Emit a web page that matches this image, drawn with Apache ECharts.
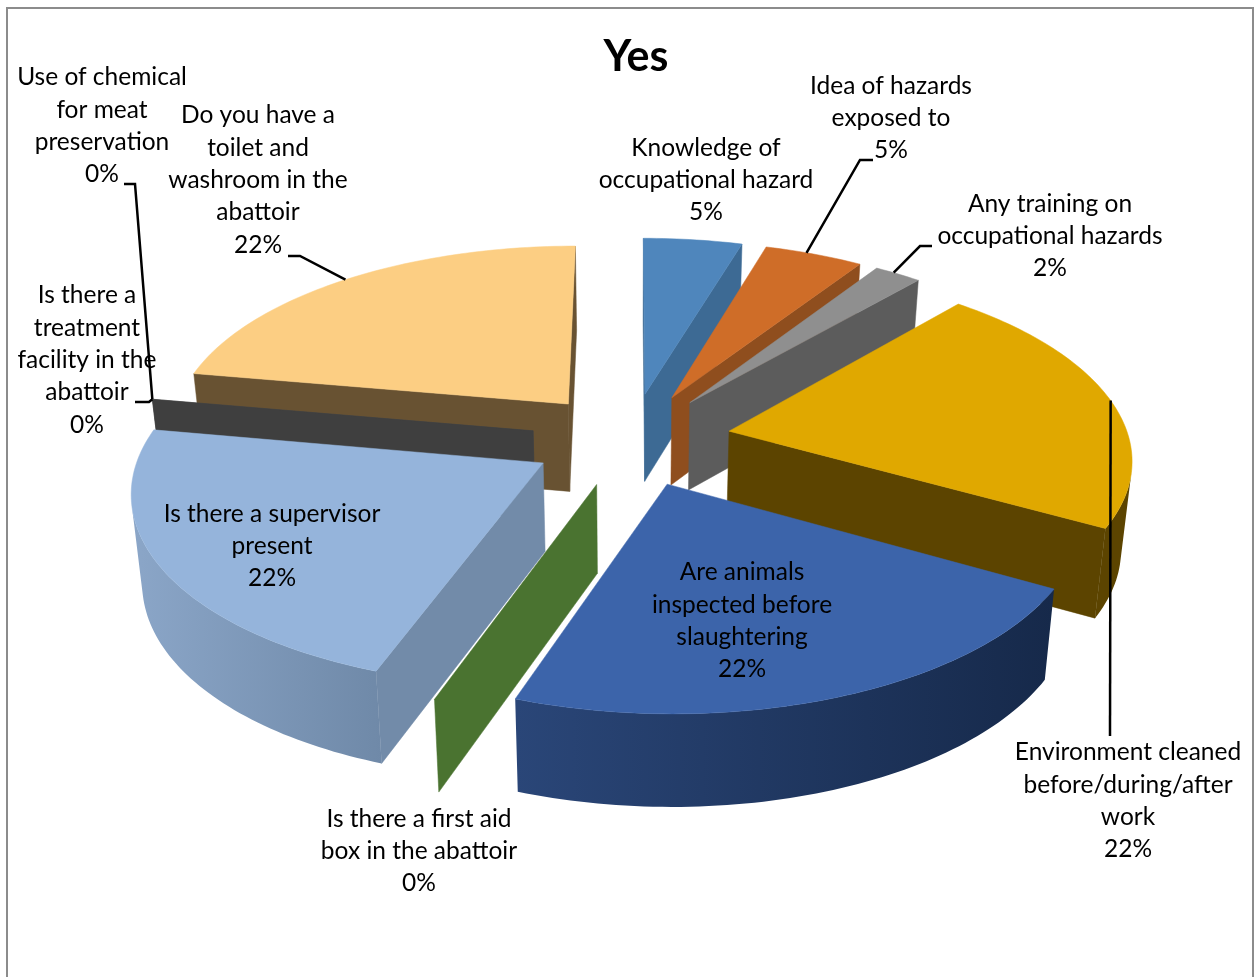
<!doctype html>
<html>
<head>
<meta charset="utf-8">
<title>Yes</title>
<script src="https://cdn.jsdelivr.net/npm/echarts@6/dist/echarts.min.js"></script>
<style>
html, body { margin: 0; padding: 0; background: #fff; }
#chart { width: 1255px; height: 977px; }
</style>
</head>
<body>
<div id="chart"></div>
<script>
// chart data
var chartTitle = 'Yes';
var categories = [
	'Knowledge of\noccupational hazard',
	'Idea of hazards\nexposed to',
	'Any training on\noccupational hazards',
	'Environment cleaned\nbefore/during/after\nwork',
	'Are animals\ninspected before\nslaughtering',
	'Is there a first aid\nbox in the abattoir',
	'Is there a supervisor\npresent',
	'Is there a\ntreatment\nfacility in the\nabattoir',
	'Use of chemical\nfor meat\npreservation',
	'Do you have a\ntoilet and\nwashroom in the\nabattoir'
];
var values = [4.6, 4.6, 2.2, 21.8, 22.2, 0, 22.4, 0, 0, 22.2];

// slice colours: top face, cut face, outer side left/right
var topColors = ['#4f86bc', '#cf6d28', '#8f8f8f', '#e0a800', '#3c64aa', '#4a7330', '#95b4db', '#4d4d4d', '#3f3f3f', '#fcce83'];
var cutColors = ['#3d6a94', '#8f4e1e', '#5c5c5c', '#5c4400', '#16294a', '#4a7330', '#728ba9', '#4d4d4d', '#3f3f3f', '#685232'];
var sideLeft = ['#3d6a94', '#8f4e1e', '#5c5c5c', '#5c4400', '#2a4678', '#4a7330', '#8ba6c8', '#4d4d4d', '#3f3f3f', '#685232'];
var sideRight = ['#3d6a94', '#8f4e1e', '#5c5c5c', '#5c4400', '#16294a', '#4a7330', '#6f89a8', '#4d4d4d', '#3f3f3f', '#685232'];

// projection of the tilted pie
var CX = 631, CY = 439, RX = 400, RY = 187, PERSP = 0.13, DEPTH = 88, SHRINK = 0.022, EXPLODE = 0.25;

function project(x, y, z) {
	var s = 1 / (1 - PERSP * y);
	var px = CX + RX * x * s;
	var py = CY + RY * y * s;
	if (z) {
		px = CX + (px - CX) * (1 - SHRINK * z);
		py = py + DEPTH * (1 + 0.3 * (s - 1)) * z;
	}
	return [px, py];
}

var total = values.reduce(function (a, b) { return a + b; }, 0);
var startAngles = [];
var sweeps = [];
var sum = 0;
for (var k = 0; k < values.length; k++) {
	startAngles.push(sum / total * Math.PI * 2);
	sweeps.push(values[k] / total * Math.PI * 2);
	sum += values[k];
}

function sliceApex(i) {
	var mid = startAngles[i] + sweeps[i] / 2;
	return [EXPLODE * Math.sin(mid), -EXPLODE * Math.cos(mid)];
}
function rimPoint(i, t) {
	var apex = sliceApex(i);
	var a = startAngles[i] + sweeps[i] * t;
	return [apex[0] + Math.sin(a), apex[1] - Math.cos(a)];
}
function area(pts) {
	var r = 0;
	for (var n = 0; n < pts.length; n++) {
		var p = pts[n], q = pts[(n + 1) % pts.length];
		r += p[0] * q[1] - q[0] * p[1];
	}
	return r;
}
function face(pts, fill) {
	return { type: 'polygon', silent: true, shape: { points: pts }, style: { fill: fill, stroke: fill, lineWidth: 0.5 } };
}

function renderSlice(params, api) {
	var i = api.value(0);
	var apex = sliceApex(i);
	var children = [];
	var steps = Math.max(2, Math.ceil(sweeps[i] / 0.02));
	var top = [project(apex[0], apex[1], 0)];
	var rim = [];
	for (var n = 0; n <= steps; n++) {
		var r = rimPoint(i, n / steps);
		rim.push(r);
		top.push(project(r[0], r[1], 0));
	}

	// the two radial cuts, only when they face the viewer
	var cut1 = [project(apex[0], apex[1], 0), project(rim[0][0], rim[0][1], 0), project(rim[0][0], rim[0][1], 1), project(apex[0], apex[1], 1)];
	var cut2 = [project(apex[0], apex[1], 1), project(rim[steps][0], rim[steps][1], 1), project(rim[steps][0], rim[steps][1], 0), project(apex[0], apex[1], 0)];
	if (area(cut1) < 0) children.push(face(cut1, cutColors[i]));
	if (area(cut2) < 0) children.push(face(cut2, cutColors[i]));

	// outer wall, visible part of the arc only
	var upper = [], lower = [];
	for (var m = 0; m < steps; m++) {
		var a = rim[m], b = rim[m + 1];
		var quad = [project(a[0], a[1], 0), project(b[0], b[1], 0), project(b[0], b[1], 1), project(a[0], a[1], 1)];
		if (area(quad) < 0) {
			if (!upper.length) { upper.push(quad[0]); lower.push(quad[3]); }
			upper.push(quad[1]);
			lower.push(quad[2]);
		}
	}
	if (upper.length) {
		children.push({
			type: 'polygon',
			silent: true,
			shape: { points: upper.concat(lower.reverse()) },
			style: {
				fill: new echarts.graphic.LinearGradient(0, 0, 1, 0, [
					{ offset: 0, color: sideLeft[i] },
					{ offset: 1, color: sideRight[i] }
				])
			}
		});
	}

	if (sweeps[i] > 0) children.push(face(top, topColors[i]));
	return { type: 'group', children: children };
}

// label placement, leader is [elbow points..., position along the slice's rim]
var labelLayout = [
	{ x: 706, y: 180 },
	{ x: 891, y: 118, leader: [[873, 160], [860, 160]], rim: 0.42 },
	{ x: 1050, y: 236, leader: [[932, 246], [920, 246]], rim: 0.4 },
	{ x: 1128, y: 801, leader: [[1110, 736]], rim: 0.5 },
	{ x: 742, y: 621 },
	{ x: 419, y: 851 },
	{ x: 272, y: 546 },
	{ x: 87, y: 360, leader: [[135, 402], [149, 402]], rim: 0 },
	{ x: 102, y: 126, leader: [[124, 184], [135, 184]], rim: 0 },
	{ x: 258, y: 180, leader: [[288, 256], [300, 256]], rim: 0.5 }
];

function renderLabel(params, api) {
	var i = api.value(0);
	var l = labelLayout[i];
	var children = [];
	if (l.leader) {
		var r = rimPoint(i, l.rim);
		children.push({
			type: 'polyline',
			silent: true,
			shape: { points: l.leader.concat([project(r[0], r[1], 0)]) },
			style: { fill: 'none', stroke: '#000', lineWidth: 2.5 }
		});
	}
	children.push({
		type: 'text',
		silent: true,
		style: {
			x: l.x,
			y: l.y,
			text: categories[i] + '\n' + Math.round(api.value(1)) + '%',
			fill: '#000',
			font: '24.5px Lato',
			lineHeight: 32.3,
			align: 'center',
			verticalAlign: 'middle'
		}
	});
	return { type: 'group', children: children };
}

// back slices are painted first
var drawOrder = values.map(function (v, i) { return i; }).sort(function (a, b) {
	return sliceApex(a)[1] - sliceApex(b)[1];
});

var chart = echarts.init(document.getElementById('chart'), null, { renderer: 'canvas' });
chart.setOption({
	animation: false,
	backgroundColor: '#fff',
	title: {
		text: chartTitle,
		left: 631,
		top: 31,
		textAlign: 'center',
		textStyle: { fontFamily: 'Lato', fontWeight: 'bold', fontSize: 43, color: '#000' }
	},
	graphic: [{
		type: 'rect',
		silent: true,
		shape: { x: 7, y: 8, width: 1246, height: 990 },
		style: { fill: 'none', stroke: '#8c8c8c', lineWidth: 2 }
	}],
	series: [{
		type: 'custom',
		coordinateSystem: 'none',
		renderItem: renderSlice,
		data: drawOrder.map(function (i) { return [i, values[i]]; }),
		z: 2
	}, {
		type: 'custom',
		coordinateSystem: 'none',
		renderItem: renderLabel,
		data: values.map(function (v, i) { return [i, v]; }),
		z: 5
	}]
});
</script>
</body>
</html>
